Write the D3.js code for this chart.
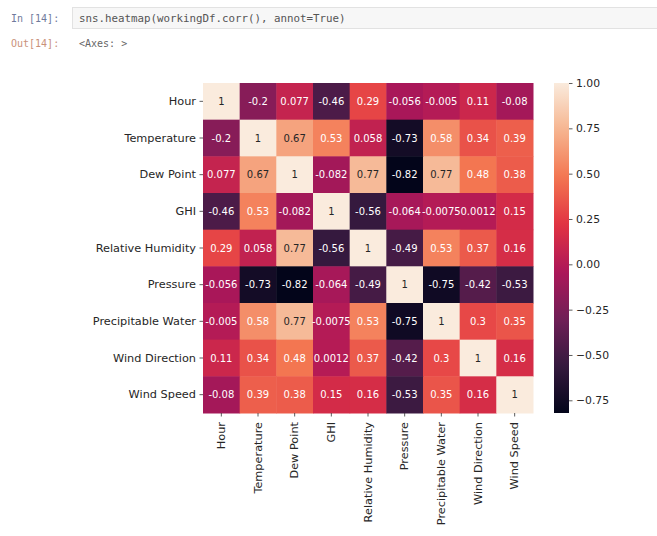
<!DOCTYPE html>
<html>
<head>
<meta charset="utf-8">
<script src="https://cdn.jsdelivr.net/npm/d3@7"></script>
<style>
  html, body { margin: 0; padding: 0; background: #ffffff; }
  svg { display: block; }
</style>
</head>
<body>
<svg id="chart" width="657" height="536"></svg>
<script>
// Correlation matrix of the weather dataframe
const variables = ["Hour", "Temperature", "Dew Point", "GHI", "Relative Humidity",
                   "Pressure", "Precipitable Water", "Wind Direction", "Wind Speed"];

const rowHour        = [1, -0.2, 0.077, -0.46, 0.29, -0.056, -0.005, 0.11, -0.08];
const rowTemperature = [-0.2, 1, 0.67, 0.53, 0.058, -0.73, 0.58, 0.34, 0.39];
const rowDewPoint    = [0.077, 0.67, 1, -0.082, 0.77, -0.82, 0.77, 0.48, 0.38];
const rowGHI         = [-0.46, 0.53, -0.082, 1, -0.56, -0.064, -0.0075, 0.0012, 0.15];
const rowRelHumidity = [0.29, 0.058, 0.77, -0.56, 1, -0.49, 0.53, 0.37, 0.16];
const rowPressure    = [-0.056, -0.73, -0.82, -0.064, -0.49, 1, -0.75, -0.42, -0.53];
const rowPrecipWater = [-0.005, 0.58, 0.77, -0.0075, 0.53, -0.75, 1, 0.3, 0.35];
const rowWindDir     = [0.11, 0.34, 0.48, 0.0012, 0.37, -0.42, 0.3, 1, 0.16];
const rowWindSpeed   = [-0.08, 0.39, 0.38, 0.15, 0.16, -0.53, 0.35, 0.16, 1];

const matrix = [rowHour, rowTemperature, rowDewPoint, rowGHI, rowRelHumidity,
                rowPressure, rowPrecipWater, rowWindDir, rowWindSpeed];

const colorbarTicks = [1.0, 0.75, 0.5, 0.25, 0.0, -0.25, -0.5, -0.75];

// "rocket" palette anchors
const rocketStops = ["#03051a", "#35193e", "#701f57", "#ad1759", "#e13342", "#f37651", "#f6b48f", "#faebdd"];

const svg = d3.select("#chart");

// ---- notebook cell header ----
const mono = "'DejaVu Sans Mono', 'Liberation Mono', monospace";
svg.append("text").attr("x", 11).attr("y", 22)
  .attr("font-family", mono).attr("font-size", 10).attr("fill", "#6f7a9c")
  .text("In [14]:");
svg.append("rect").attr("x", 72.5).attr("y", 7.5).attr("width", 590).attr("height", 21)
  .attr("fill", "#f7f7f7").attr("stroke", "#e2e2e2");
svg.append("text").attr("x", 79).attr("y", 22)
  .attr("font-family", mono).attr("font-size", 10.8).attr("fill", "#555")
  .text("sns.heatmap(workingDf.corr(), annot=True)");
svg.append("text").attr("x", 11).attr("y", 47)
  .attr("font-family", mono).attr("font-size", 10).attr("fill", "#c9917a")
  .text("Out[14]:");
svg.append("text").attr("x", 79).attr("y", 47)
  .attr("font-family", mono).attr("font-size", 10).attr("fill", "#666")
  .text("<Axes: >");

// ---- heatmap ----
const x0 = 203, y0 = 83, size = 330;
const x = d3.scaleBand().domain(variables).range([x0, x0 + size]);
const y = d3.scaleBand().domain(variables).range([y0, y0 + size]);

const allVals = matrix.flat();
const vmin = d3.min(allVals), vmax = d3.max(allVals);
const color = d3.scaleLinear()
  .domain(rocketStops.map((_, i) => vmin + (vmax - vmin) * i / (rocketStops.length - 1)))
  .range(rocketStops)
  .interpolate(d3.interpolateRgb);

function luminance(c) {
  const rgb = d3.rgb(c);
  const lin = v => { v /= 255; return v <= 0.03928 ? v / 12.92 : Math.pow((v + 0.055) / 1.055, 2.4); };
  return 0.2126 * lin(rgb.r) + 0.7152 * lin(rgb.g) + 0.0722 * lin(rgb.b);
}

const cells = [];
matrix.forEach((row, i) => row.forEach((v, j) => cells.push({ r: variables[i], c: variables[j], v })));

svg.append("g").selectAll("rect").data(cells).join("rect")
  .attr("x", d => x(d.c)).attr("y", d => y(d.r))
  .attr("width", x.bandwidth() + 0.5).attr("height", y.bandwidth() + 0.5)
  .attr("fill", d => color(d.v));

const sans = "'DejaVu Sans', sans-serif";
svg.append("g").selectAll("text").data(cells).join("text")
  .attr("x", d => x(d.c) + x.bandwidth() / 2)
  .attr("y", d => y(d.r) + y.bandwidth() / 2)
  .attr("text-anchor", "middle").attr("dominant-baseline", "central")
  .attr("font-family", sans).attr("font-size", 10)
  .attr("fill", d => luminance(color(d.v)) > 0.408 ? "#262626" : "#ffffff")
  .text(d => String(d.v));

// axes
const labelSize = 11.3;
const yAxis = svg.append("g").attr("transform", `translate(${x0},0)`)
  .call(d3.axisLeft(y).tickSize(3.5).tickPadding(3.5));
yAxis.select(".domain").remove();
yAxis.selectAll("line").attr("stroke", "#333").attr("stroke-width", 0.8);
yAxis.selectAll("text").attr("font-family", sans).attr("font-size", labelSize).attr("fill", "#262626");

const xAxis = svg.append("g").attr("transform", `translate(0,${y0 + size})`)
  .call(d3.axisBottom(x).tickSize(3.5).tickPadding(3.5));
xAxis.select(".domain").remove();
xAxis.selectAll("line").attr("stroke", "#333").attr("stroke-width", 0.8);
xAxis.selectAll("text")
  .attr("font-family", sans).attr("font-size", labelSize).attr("fill", "#262626")
  .attr("transform", "rotate(-90)")
  .attr("text-anchor", "end")
  .attr("dy", null)
  .attr("dominant-baseline", "central")
  .attr("x", -9).attr("y", 0);

// ---- colorbar ----
const cbX = 554, cbW = 15;
const cbScale = d3.scaleLinear().domain([vmin, vmax]).range([y0 + size, y0]);
const defs = svg.append("defs");
const grad = defs.append("linearGradient").attr("id", "cbgrad")
  .attr("x1", "0").attr("y1", "1").attr("x2", "0").attr("y2", "0");
d3.range(0, 1.0001, 0.02).forEach(t => {
  grad.append("stop").attr("offset", t).attr("stop-color", color(vmin + t * (vmax - vmin)));
});
svg.append("rect").attr("x", cbX).attr("y", y0).attr("width", cbW).attr("height", size)
  .attr("fill", "url(#cbgrad)");

const cbAxis = svg.append("g").attr("transform", `translate(${cbX + cbW},0)`)
  .call(d3.axisRight(cbScale).tickValues(colorbarTicks).tickSize(3.5).tickPadding(3.5)
    .tickFormat(d => d3.format(".2f")(d).replace("-", "\u2212")));
cbAxis.select(".domain").remove();
cbAxis.selectAll("line").attr("stroke", "#333").attr("stroke-width", 0.8);
cbAxis.selectAll("text").attr("font-family", sans).attr("font-size", 10.8).attr("fill", "#262626");
</script>
</body>
</html>
